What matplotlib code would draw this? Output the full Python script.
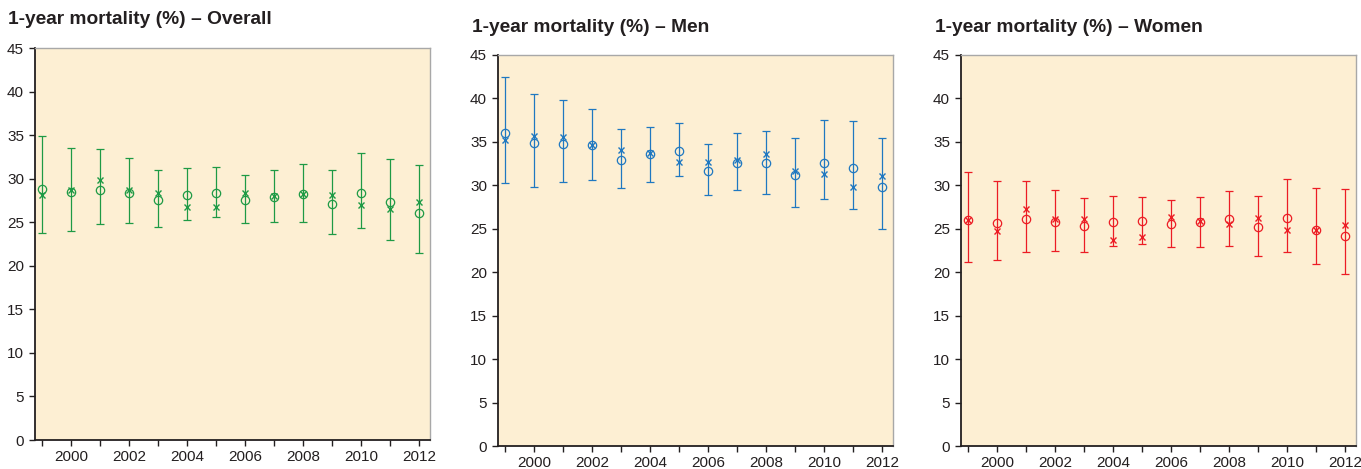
import numpy as np
import matplotlib
matplotlib.use("Agg")
import matplotlib.pyplot as plt

plt.rcParams['font.family'] = ['Liberation Sans', 'DejaVu Sans']

# --- Data (1-year mortality, %) ---
years = list(range(1999, 2013))

overall_circle = [28.85, 28.5, 28.7, 28.4, 27.5, 28.15, 28.4, 27.5, 27.95, 28.2, 27.1, 28.4, 27.3, 26.1]
overall_cross = [28.1, 28.7, 29.9, 28.7, 28.4, 26.8, 26.8, 28.3, 28.0, 28.25, 28.15, 27.0, 26.5, 27.35]
overall_upper = [34.9, 33.5, 33.4, 32.4, 31.0, 31.2, 31.35, 30.4, 31.0, 31.7, 31.0, 32.9, 32.3, 31.6]
overall_lower = [23.8, 24.0, 24.8, 24.9, 24.5, 25.3, 25.6, 24.9, 25.0, 25.0, 23.7, 24.3, 23.0, 21.5]

men_circle = [36.0, 34.85, 34.8, 34.6, 32.9, 33.6, 34.0, 31.65, 32.6, 32.55, 31.2, 32.6, 32.0, 29.8]
men_cross = [35.27, 35.7, 35.6, 34.65, 34.05, 33.7, 32.65, 32.7, 32.9, 33.6, 31.6, 31.3, 29.85, 31.1]
men_upper = [42.5, 40.5, 39.85, 38.8, 36.5, 36.7, 37.2, 34.7, 36.0, 36.3, 35.4, 37.5, 37.4, 35.5]
men_lower = [30.27, 29.8, 30.4, 30.6, 29.7, 30.4, 31.05, 28.9, 29.5, 29.0, 27.45, 28.4, 27.3, 25.0]

women_circle = [26.05, 25.65, 26.15, 25.8, 25.35, 25.8, 25.9, 25.55, 25.75, 26.1, 25.2, 26.25, 24.9, 24.2]
women_cross = [26.05, 24.75, 27.3, 26.1, 26.1, 23.7, 24.1, 26.3, 25.9, 25.6, 26.25, 24.9, 24.85, 25.45]
women_upper = [31.55, 30.45, 30.45, 29.5, 28.55, 28.8, 28.65, 28.3, 28.65, 29.4, 28.8, 30.75, 29.75, 29.6]
women_lower = [21.2, 21.45, 22.3, 22.4, 22.3, 23.05, 23.3, 22.95, 22.9, 23.05, 21.85, 22.3, 20.9, 19.8]

titles = ['1-year mortality (%) \u2013 Overall',
          '1-year mortality (%) \u2013 Men',
          '1-year mortality (%) \u2013 Women']
year_labels = [str(y) if y % 2 == 0 else '' for y in years]

W, H = 1361, 469
bg = '#fdefd3'
dark = '#231f20'

# panel boxes in pixels: left, top, right, bottom
boxes = [(34.5, 48, 430, 440), (497.5, 55, 893, 446), (960.5, 55, 1356, 446)]
title_pos = [(8, 20), (471.5, 28), (935, 28)]

panels = [
    (overall_circle, overall_cross, overall_upper, overall_lower, '#1e9a45'),
    (men_circle, men_cross, men_upper, men_lower, '#1f78c1'),
    (women_circle, women_cross, women_upper, women_lower, '#ec1c24'),
]

fig = plt.figure(figsize=(W / 100, H / 100), dpi=100)

for i, (circ, cross, up, lo, col) in enumerate(panels):
    l, t, r, b = boxes[i]
    ax = fig.add_axes([l / W, 1 - b / H, (r - l) / W, (b - t) / H])
    ax.set_facecolor(bg)
    circ = np.array(circ)
    yerr = [circ - np.array(lo), np.array(up) - circ]
    ax.errorbar(years, circ, yerr=yerr, fmt='none', ecolor=col,
                elinewidth=0.9, capsize=2.8, capthick=0.9)
    ax.plot(years, circ, linestyle='none', marker='o', markersize=6,
            markerfacecolor='none', markeredgecolor=col, markeredgewidth=0.9)
    ax.plot(years, cross, linestyle='none', marker='x', markersize=4.8,
            markeredgecolor=col, markeredgewidth=1.0)

    ax.set_xlim(1998.75, 2012.38)
    ax.set_ylim(0, 45)
    ax.set_yticks(range(0, 46, 5))
    ax.set_xticks(years)
    ax.set_xticklabels(year_labels)

    for s in ['left', 'bottom']:
        ax.spines[s].set_color(dark)
        ax.spines[s].set_linewidth(1.3)
    for s in ['top', 'right']:
        ax.spines[s].set_color('#a8a8a8')
        ax.spines[s].set_linewidth(1.0)
    ax.tick_params(axis='both', colors=dark, labelcolor=dark, labelsize=11,
                   length=4.5, width=1.0, direction='out', pad=3)

    fig.text(title_pos[i][0] / W, 1 - title_pos[i][1] / H, titles[i],
             fontsize=13.8, fontweight='bold', color=dark, ha='left', va='center')

fig.savefig('out.png', dpi=100, facecolor='white')
